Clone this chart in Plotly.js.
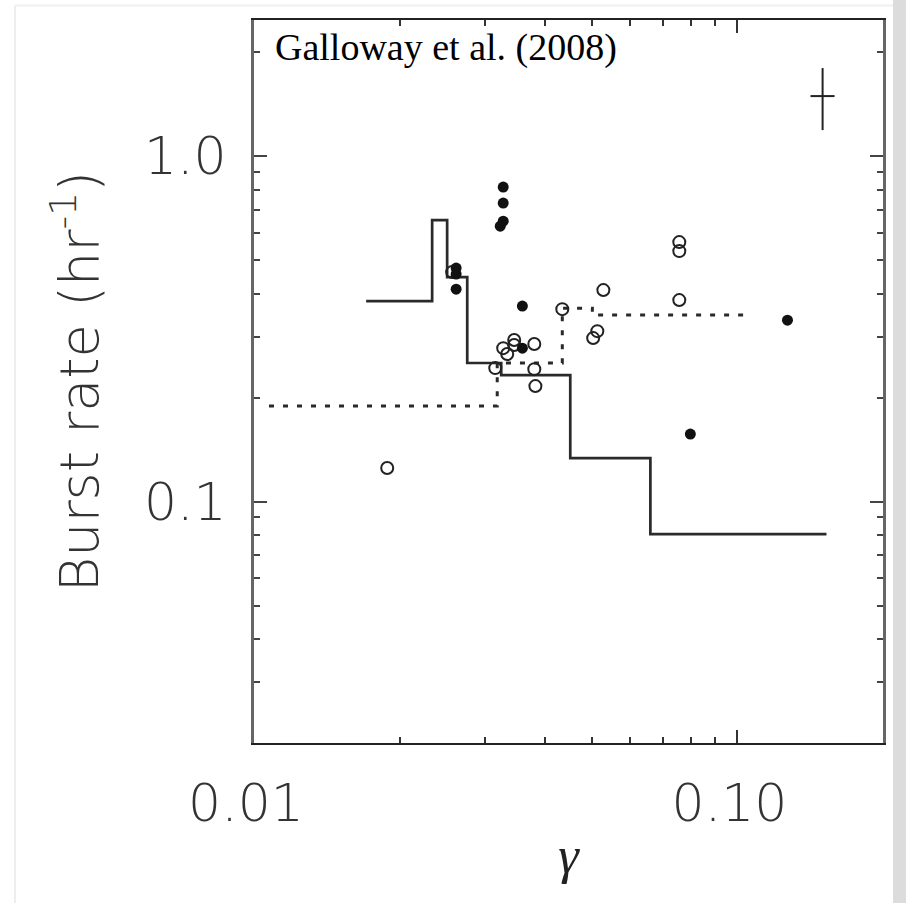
<!DOCTYPE html>
<html>
<head>
<meta charset="utf-8">
<script src="https://cdn.plot.ly/plotly-3.0.1.min.js"></script>
<style>html,body{margin:0;padding:0;background:#fff;}#chart{width:906px;height:903px;}</style>
</head>
<body>
<div id="chart"></div>
<script>
// Solid step line (model)
const solidX = [0.01706, 0.02336, 0.02336, 0.02509, 0.02509, 0.02761, 0.02761, 0.03246, 0.03246, 0.04510, 0.04510, 0.06605, 0.06605, 0.1528];
const solidY = [0.3804, 0.3804, 0.6527, 0.6527, 0.4466, 0.4466, 0.2518, 0.2518, 0.2323, 0.2323, 0.1336, 0.1336, 0.0805, 0.0805];
// Dotted step line
const dotX = [0.01074, 0.03185, 0.03185, 0.04342, 0.04342, 0.0501, 0.0501, 0.1039];
const dotY = [0.189, 0.189, 0.2518, 0.2518, 0.363, 0.363, 0.3465, 0.3465];
// Filled circles
const filledX = [0.03277, 0.03277, 0.03277, 0.03231, 0.02619, 0.02619, 0.02619, 0.0359, 0.0359, 0.1269, 0.0799];
const filledY = [0.8133, 0.731, 0.648, 0.627, 0.474, 0.4555, 0.412, 0.368, 0.278, 0.335, 0.1568];
// Open circles
const openX = [0.01886, 0.03155, 0.03277, 0.0334, 0.03453, 0.03453, 0.038, 0.038, 0.0382, 0.04342, 0.0528, 0.0503, 0.0513, 0.0758, 0.0758, 0.0758, 0.0257];
const openY = [0.125, 0.2434, 0.278, 0.2673, 0.2935, 0.2838, 0.2857, 0.2417, 0.2159, 0.3606, 0.4094, 0.2973, 0.3114, 0.5638, 0.5309, 0.383, 0.4615];
// Typical error cross
const errX = [0.150];
const errY = [1.492];
const errXPlus = [0.0088], errXMinus = [0.0084];
const errYPlus = [0.306], errYMinus = [0.303];

const xTickVals = [0.01, 0.1];
const xTickText = ['0.01', '0.10'];
const xMinorVals = [0.02, 0.03, 0.04, 0.05, 0.06, 0.07, 0.08, 0.09];
const yTickVals = [0.1, 1.0];
const yTickText = ['0.1', '1.0'];
const yMinorVals = [0.03, 0.04, 0.05, 0.06, 0.07, 0.08, 0.09, 0.2, 0.3, 0.4, 0.5, 0.6, 0.7, 0.8, 0.9, 2.0];

const traces = [
  {x: solidX, y: solidY, mode: 'lines', line: {color: '#2a2a2a', width: 2.7}, hoverinfo: 'skip'},
  {x: dotX, y: dotY, mode: 'lines', line: {color: '#2a2a2a', width: 3, dash: '5px,9px'}, hoverinfo: 'skip'},
  {x: openX, y: openY, mode: 'markers', marker: {symbol: 'circle-open', size: 12, color: '#222', line: {width: 2, color: '#222'}}},
  {x: filledX, y: filledY, mode: 'markers', marker: {symbol: 'circle', size: 11, color: '#111'}},
  {x: errX, y: errY, mode: 'markers', marker: {size: 1, color: 'rgba(0,0,0,0)'},
   error_x: {type: 'data', symmetric: false, array: errXPlus, arrayminus: errXMinus, width: 0, thickness: 2, color: '#222'},
   error_y: {type: 'data', symmetric: false, array: errYPlus, arrayminus: errYMinus, width: 0, thickness: 2, color: '#222'}}
];

const tickFont = {family: 'DejaVu Sans, sans-serif', size: 52, color: '#333', weight: 200};

const layout = {
  width: 906, height: 903,
  margin: {l: 254, r: 23, t: 20, b: 160},
  paper_bgcolor: '#fff', plot_bgcolor: '#fff',
  showlegend: false,
  xaxis: {
    type: 'log', range: [-2, Math.log10(0.2)],
    tickmode: 'array', tickvals: xTickVals, ticktext: xTickText,
    ticks: 'inside', ticklen: 13, tickwidth: 2, tickcolor: '#333',
    minor: {tickmode: 'array', tickvals: xMinorVals, ticks: 'inside', ticklen: 6, tickwidth: 2, tickcolor: '#333'},
    showline: true, linecolor: '#222', linewidth: 2, mirror: 'ticks',
    showgrid: false, zeroline: false,
    tickfont: tickFont, ticklabelstandoff: 14, ticklabelshift: -8,
    title: {text: '<i>γ</i>', font: {family: 'Liberation Serif, serif', size: 52, color: '#222'}, standoff: 4},
    automargin: false
  },
  yaxis: {
    type: 'log', range: [Math.log10(0.02), 0.394],
    tickmode: 'array', tickvals: yTickVals, ticktext: yTickText,
    ticks: 'inside', ticklen: 13, tickwidth: 2, tickcolor: '#444',
    minor: {tickmode: 'array', tickvals: yMinorVals, ticks: 'inside', ticklen: 6, tickwidth: 2, tickcolor: '#444'},
    showline: true, linecolor: '#666', linewidth: 3, mirror: 'ticks',
    showgrid: false, zeroline: false,
    tickfont: tickFont, ticklabelstandoff: 14,
    title: {text: 'Burst rate (hr<sup>-1</sup>)', font: {family: 'DejaVu Sans, sans-serif', size: 54, color: '#333', weight: 200}, standoff: 28},
    automargin: false
  },
  annotations: [
    {text: 'Galloway et al. (2008)', xref: 'paper', yref: 'paper', x: 0.03, y: 0.995, xanchor: 'left', yanchor: 'top',
     showarrow: false, font: {family: 'Liberation Serif, Times New Roman, serif', size: 38, color: '#000'}}
  ],
  shapes: [
    {type: 'rect', xref: 'paper', yref: 'paper', x0: 1.0159, x1: 1.0366, y0: -0.222, y1: 1.03, fillcolor: '#dcdcdc', line: {width: 0}, layer: 'below'},
    {type: 'line', xref: 'paper', yref: 'paper', x0: -0.38, x1: -0.38, y0: -0.222, y1: 1.02, line: {color: '#eeeeee', width: 2}, layer: 'below'},
    {type: 'line', xref: 'paper', yref: 'paper', x0: -0.38, x1: 1.0159, y0: 1.02, y1: 1.02, line: {color: '#f0f0f0', width: 2}, layer: 'below'}
  ]
};

Plotly.newPlot('chart', traces, layout, {displayModeBar: false, staticPlot: true});
</script>
</body>
</html>
